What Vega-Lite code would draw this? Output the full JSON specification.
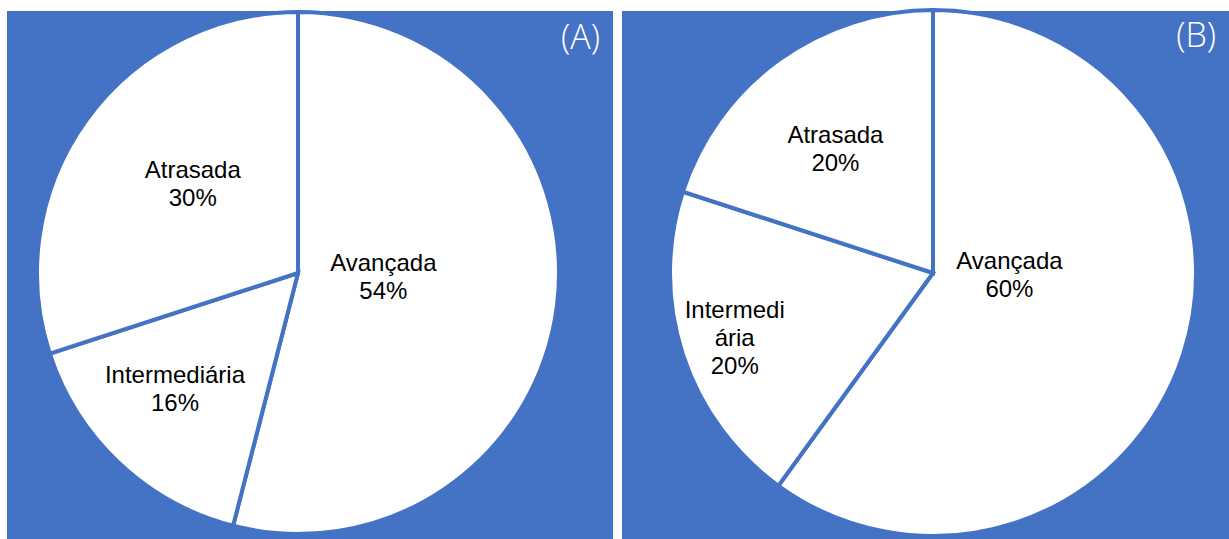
{
  "$schema": "https://vega.github.io/schema/vega-lite/v6.json",
  "background": "white",
  "padding": {"left": 7, "top": 2, "right": 0, "bottom": 0},
  "autosize": {"type": "pad"},
  "spacing": 9,
  "bounds": "flush",
  "config": {
    "view": {"stroke": null, "fill": "#4472C4"},
    "title": {"font": "Open Sans", "fontWeight": 300, "fontSize": 34, "color": "white", "anchor": "end", "orient": "top", "frame": "group", "baseline": "alphabetic", "offset": -52, "dx": -13},
    "text": {"font": "Liberation Sans", "fontSize": 24, "color": "black", "lineBreak": "\n", "lineHeight": 28, "align": "center", "baseline": "middle"}
  },
  "datasets": {
    "a": [
      {"categoria": "Avançada", "rotulo": "Avançada", "valor": 54, "ordem": 1},
      {"categoria": "Intermediária", "rotulo": "Intermediária", "valor": 16, "ordem": 2},
      {"categoria": "Atrasada", "rotulo": "Atrasada", "valor": 30, "ordem": 3}
    ],
    "b": [
      {"categoria": "Avançada", "rotulo": "Avançada", "valor": 60, "ordem": 1},
      {"categoria": "Intermediária", "rotulo": "Intermedi\nária", "valor": 20, "ordem": 2},
      {"categoria": "Atrasada", "rotulo": "Atrasada", "valor": 20, "ordem": 3}
    ]
  },
  "hconcat": [
    {
      "width": 606,
      "height": 529,
      "view": {"fill": "#4472C4", "stroke": null},
      "title": "(A)",
      "data": {"name": "a"},
      "transform": [
        {"stack": "valor", "groupby": [], "sort": [{"field": "ordem"}], "as": ["t0", "t1"]},
        {"calculate": "(datum.t0 + datum.t1) / 2", "as": "meio"},
        {"calculate": "datum.rotulo + '\\n' + datum.valor + '%'", "as": "texto"}
      ],
      "encoding": {
        "theta": {"field": "t0", "type": "quantitative", "scale": {"domain": [0, 100]}}
      },
      "layer": [
        {
          "mark": {"type": "arc", "outerRadius": 261, "fill": "white", "stroke": "#4472C4", "strokeWidth": 4, "xOffset": -12, "yOffset": -2.5},
          "encoding": {"theta2": {"field": "t1"}}
        },
        {
          "transform": [{"filter": "datum.categoria === 'Avançada'"}],
          "mark": {"type": "text", "radius": 85, "xOffset": -12, "yOffset": -2.5, "dx": 1, "dy": -20},
          "encoding": {"theta": {"field": "meio", "type": "quantitative"}, "text": {"field": "texto", "type": "nominal"}}
        },
        {
          "transform": [{"filter": "datum.categoria === 'Intermediária'"}],
          "mark": {"type": "text", "radius": 169.5, "xOffset": -12, "yOffset": -2.5, "dx": -7, "dy": -21},
          "encoding": {"theta": {"field": "meio", "type": "quantitative"}, "text": {"field": "texto", "type": "nominal"}}
        },
        {
          "transform": [{"filter": "datum.categoria === 'Atrasada'"}],
          "mark": {"type": "text", "radius": 137.5, "xOffset": -12, "yOffset": -2.5, "dx": 6, "dy": -21},
          "encoding": {"theta": {"field": "meio", "type": "quantitative"}, "text": {"field": "texto", "type": "nominal"}}
        }
      ]
    },
    {
      "width": 607,
      "height": 529,
      "view": {"fill": "#4472C4", "stroke": null},
      "title": "(B)",
      "data": {"name": "b"},
      "transform": [
        {"stack": "valor", "groupby": [], "sort": [{"field": "ordem"}], "as": ["t0", "t1"]},
        {"calculate": "(datum.t0 + datum.t1) / 2", "as": "meio"},
        {"calculate": "datum.rotulo + '\\n' + datum.valor + '%'", "as": "texto"}
      ],
      "encoding": {
        "theta": {"field": "t0", "type": "quantitative", "scale": {"domain": [0, 100]}}
      },
      "layer": [
        {
          "mark": {"type": "arc", "outerRadius": 263, "fill": "white", "stroke": "#4472C4", "strokeWidth": 4, "xOffset": 7.5, "yOffset": -2.5},
          "encoding": {"theta2": {"field": "t1"}}
        },
        {
          "transform": [{"filter": "datum.categoria === 'Avançada'"}],
          "mark": {"type": "text", "radius": 73, "xOffset": 7.5, "yOffset": -2.5, "dx": 7, "dy": -34},
          "encoding": {"theta": {"field": "meio", "type": "quantitative"}, "text": {"field": "texto", "type": "nominal"}}
        },
        {
          "transform": [{"filter": "datum.categoria === 'Intermediária'"}],
          "mark": {"type": "text", "radius": 208.5, "xOffset": 7.5, "yOffset": -2.5, "dx": 0, "dy": -26},
          "encoding": {"theta": {"field": "meio", "type": "quantitative"}, "text": {"field": "texto", "type": "nominal"}}
        },
        {
          "transform": [{"filter": "datum.categoria === 'Atrasada'"}],
          "mark": {"type": "text", "radius": 157.5, "xOffset": 7.5, "yOffset": -2.5, "dx": -5, "dy": -10},
          "encoding": {"theta": {"field": "meio", "type": "quantitative"}, "text": {"field": "texto", "type": "nominal"}}
        }
      ]
    }
  ]
}
